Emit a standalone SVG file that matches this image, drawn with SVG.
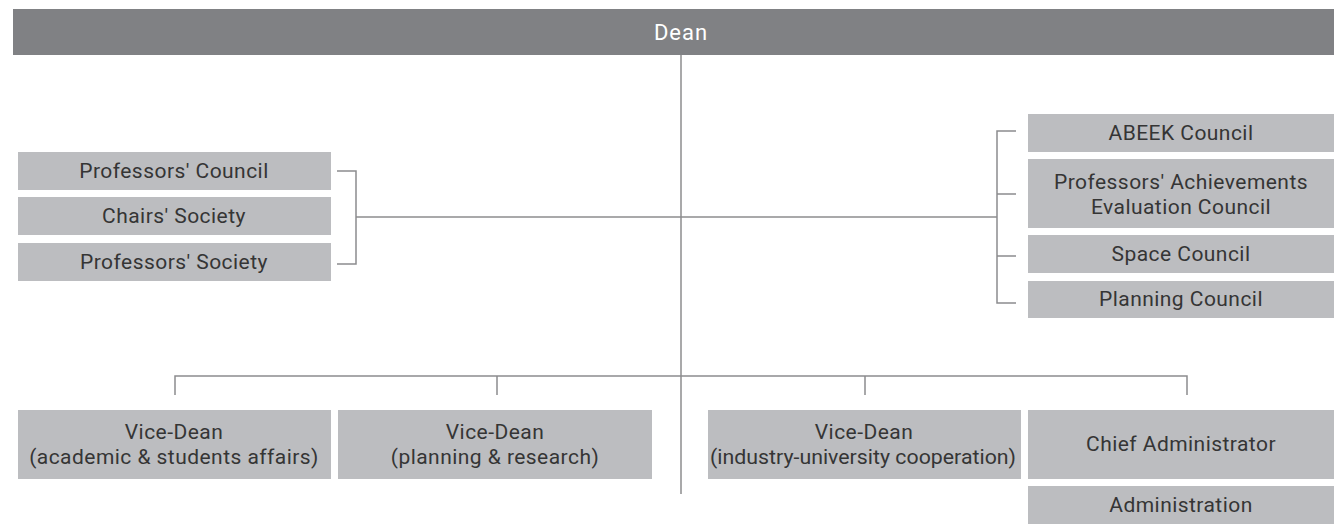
<svg xmlns="http://www.w3.org/2000/svg" width="1334" height="524" viewBox="0 0 1334 524">
<style>
.box{fill:#bcbdc0}
.t{font-family:Roboto,"Liberation Sans",sans-serif;font-size:21px;letter-spacing:0.45px;fill:#353535;text-anchor:middle;dominant-baseline:central}
.ln{stroke:#8c8c8e;stroke-width:1.5;fill:none}
</style>
<rect width="1334" height="524" fill="#ffffff"/>
<g id="connectors">
<path class="ln" d="M681 55 V494"/>
<path class="ln" d="M356 217 H997"/>
<path class="ln" d="M337 171 H356 V264 H337"/>
<path class="ln" d="M1016 131 H997 V303 H1016 M997 194 H1016 M997 256 H1016"/>
<path class="ln" d="M175 395 V376 H1187 V395 M497 376 V395 M865 376 V395"/>
</g>
<g id="dean"><rect x="13" y="9" width="1321" height="46" fill="#808184"/><text class="t" x="681" y="32" style="fill:#ffffff;font-size:22px;letter-spacing:1px">Dean</text></g>
<g id="professors-council"><rect class="box" x="18" y="152" width="313" height="38"/><text class="t" x="174" y="171">Professors' Council</text></g>
<g id="chairs-society"><rect class="box" x="18" y="197" width="313" height="38"/><text class="t" x="174" y="216">Chairs' Society</text></g>
<g id="professors-society"><rect class="box" x="18" y="243" width="313" height="38"/><text class="t" x="174" y="262">Professors' Society</text></g>
<g id="abeek-council"><rect class="box" x="1028" y="114" width="306" height="38"/><text class="t" x="1181" y="133">ABEEK Council</text></g>
<g id="paec"><rect class="box" x="1028" y="159" width="306" height="69"/><text class="t" x="1181" y="182">Professors' Achievements</text><text class="t" x="1181" y="207">Evaluation Council</text></g>
<g id="space-council"><rect class="box" x="1028" y="235" width="306" height="38"/><text class="t" x="1181" y="254">Space Council</text></g>
<g id="planning-council"><rect class="box" x="1028" y="281" width="306" height="37"/><text class="t" x="1181" y="299">Planning Council</text></g>
<g id="vd-academic"><rect class="box" x="18" y="410" width="313" height="69"/><text class="t" x="174" y="432">Vice-Dean</text><text class="t" x="174" y="457">(academic &amp; students affairs)</text></g>
<g id="vd-planning"><rect class="box" x="338" y="410" width="314" height="69"/><text class="t" x="495" y="432">Vice-Dean</text><text class="t" x="495" y="457">(planning &amp; research)</text></g>
<g id="vd-industry"><rect class="box" x="708" y="410" width="313" height="69"/><text class="t" x="864" y="432">Vice-Dean</text><text class="t" x="863" y="457" textLength="306" lengthAdjust="spacingAndGlyphs" style="letter-spacing:0">(industry-university cooperation)</text></g>
<g id="chief-admin"><rect class="box" x="1028" y="410" width="306" height="69"/><text class="t" x="1181" y="444">Chief Administrator</text></g>
<g id="administration"><rect class="box" x="1028" y="486" width="306" height="38"/><text class="t" x="1181" y="505">Administration</text></g>
</svg>
